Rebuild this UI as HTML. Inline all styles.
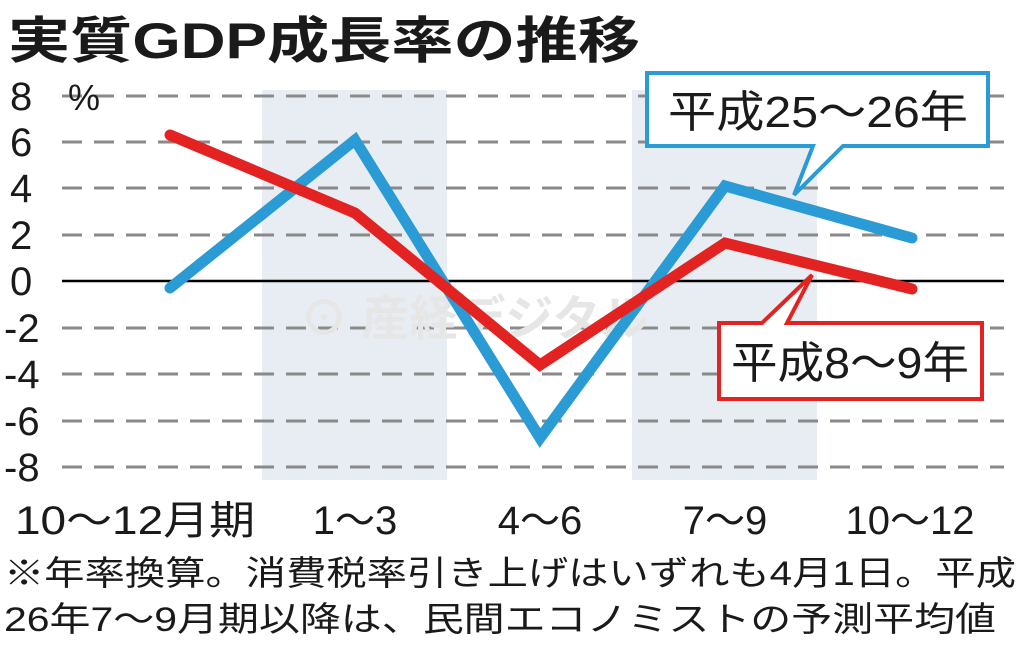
<!DOCTYPE html>
<html><head><meta charset="utf-8"><style>
body{margin:0;background:#fff}
svg text{font-family:"Liberation Sans","Noto Sans CJK JP",sans-serif}
</style></head><body>
<svg width="1024" height="649" viewBox="0 0 1024 649" xmlns="http://www.w3.org/2000/svg">
<rect width="1024" height="649" fill="#fff"/>
<rect x="262" y="90" width="185" height="390" fill="#e8edf3"/>
<rect x="632" y="90" width="185" height="390" fill="#e8edf3"/>
<g stroke="#8a8a8a" stroke-width="3" stroke-dasharray="20,12">
<line x1="62" y1="96" x2="1004" y2="96"/>
<line x1="62" y1="142" x2="1004" y2="142"/>
<line x1="62" y1="188" x2="1004" y2="188"/>
<line x1="62" y1="235" x2="1004" y2="235"/>
<line x1="62" y1="328" x2="1004" y2="328"/>
<line x1="62" y1="374" x2="1004" y2="374"/>
<line x1="62" y1="421" x2="1004" y2="421"/>
<line x1="62" y1="467" x2="1004" y2="467"/>
</g>
<line x1="62" y1="281" x2="1004" y2="281" stroke="#000" stroke-width="2.5"/>
<text x="300" y="335" font-size="48" font-weight="bold" fill="#e6e6e6">⊙ 産経デジタル</text>
<polyline points="170,288 355,140 540,438 725,186 912,238" fill="none" stroke="#2a9bd4" stroke-width="11" stroke-linejoin="miter" stroke-linecap="round"/>
<polyline points="170,135 355,213 540,365 725,243 912,289" fill="none" stroke="#e32322" stroke-width="11" stroke-linejoin="miter" stroke-linecap="round"/>
<polygon points="647,73 988,73 988,146 843,146 794,195 813,146 647,146" fill="#fff" stroke="#2a9bd4" stroke-width="4"/>
<text x="668" y="127" font-size="44" fill="#1a1a1a" textLength="300" lengthAdjust="spacingAndGlyphs">平成25〜26年</text>
<polygon points="719,323 762,323 812,275 787,323 982,323 982,399 719,399" fill="#fff" stroke="#e32322" stroke-width="4"/>
<text x="731" y="378" font-size="44" fill="#1a1a1a" textLength="238" lengthAdjust="spacingAndGlyphs">平成8〜9年</text>
<g font-size="40" fill="#1a1a1a">
<text x="10" y="110">8</text><text x="68" y="110" font-size="36">%</text>
<text x="10" y="156">6</text><text x="10" y="202">4</text><text x="10" y="249">2</text>
<text x="10" y="295">0</text>
<text x="4" y="342">-2</text><text x="4" y="388">-4</text><text x="4" y="435">-6</text><text x="4" y="481">-8</text>
</g>
<g font-size="40" fill="#1a1a1a" text-anchor="middle">
<text x="135" y="534" textLength="240" lengthAdjust="spacingAndGlyphs">10〜12月期</text>
<text x="355" y="534">1〜3</text>
<text x="540" y="534">4〜6</text>
<text x="725" y="534">7〜9</text>
<text x="910" y="534">10〜12</text>
</g>
<text x="8" y="58" font-size="50" font-weight="bold" fill="#1a1a1a" textLength="632" lengthAdjust="spacingAndGlyphs">実質GDP成長率の推移</text>
<text x="4" y="585" font-size="34" fill="#1a1a1a" textLength="1012" lengthAdjust="spacingAndGlyphs">※年率換算。消費税率引き上げはいずれも4月1日。平成</text>
<text x="4" y="631" font-size="34" fill="#1a1a1a" textLength="992" lengthAdjust="spacingAndGlyphs">26年7〜9月期以降は、民間エコノミストの予測平均値</text>
</svg>
</body></html>
